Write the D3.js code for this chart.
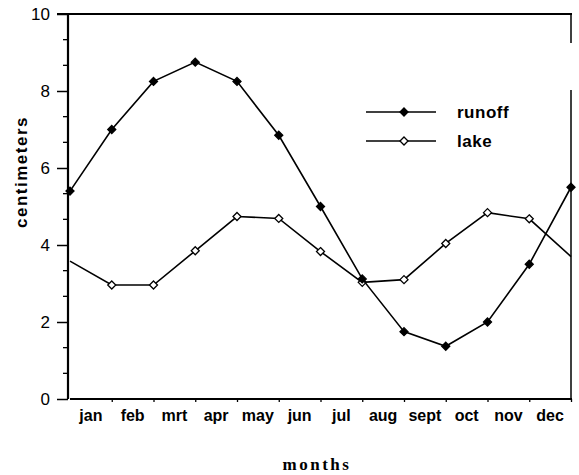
<!DOCTYPE html>
<html>
<head>
<meta charset="utf-8">
<title>runoff and lake</title>
<script src="https://d3js.org/d3.v7.min.js"></script>
<style>
  body { margin: 0; background: #fff; }
  svg { display: block; }
  .tick-y { font-family: "Liberation Sans", Arial, sans-serif; font-size: 17px; }
  .tick-x { font-family: "Liberation Sans", Arial, sans-serif; font-size: 16px; font-weight: bold; }
  .legend { font-family: "Liberation Sans", Arial, sans-serif; font-size: 17px; font-weight: bold; letter-spacing: 0.5px; }
</style>
</head>
<body>
<svg id="chart" width="579" height="475"></svg>
<script>
// data (13 points: jan .. dec and back to jan)
var months = ["jan", "feb", "mrt", "apr", "may", "jun", "jul", "aug", "sept", "oct", "nov", "dec"];
var runoff = [5.4, 7.0, 8.25, 8.75, 8.25, 6.85, 5.0, 3.12, 1.75, 1.37, 2.0, 3.5, 5.5];
var lake   = [3.58, 2.96, 2.96, 3.85, 4.74, 4.69, 3.83, 3.03, 3.1, 4.04, 4.84, 4.68, 3.7];
var yMajor = [0, 2, 4, 6, 8, 10];

var svg = d3.select("#chart");

var x = d3.scaleLinear().domain([0, 12]).range([70, 571]);
var y = d3.scaleLinear().domain([0, 10]).range([399, 14]);

// frame (top, bottom, right side with the gap like in the scan)
svg.append("line").attr("x1", 57).attr("x2", x(12) + 1).attr("y1", y(10)).attr("y2", y(10))
   .attr("stroke", "#000").attr("stroke-width", 2);
svg.append("line").attr("x1", x(0)).attr("x2", x(12) + 1).attr("y1", y(0)).attr("y2", y(0))
   .attr("stroke", "#000").attr("stroke-width", 2);
svg.append("line").attr("x1", x(12)).attr("x2", x(12)).attr("y1", y(10)).attr("y2", 43)
   .attr("stroke", "#000").attr("stroke-width", 1.5);
svg.append("line").attr("x1", x(12)).attr("x2", x(12)).attr("y1", 90).attr("y2", y(0))
   .attr("stroke", "#000").attr("stroke-width", 1.5);

// y axis
var yAxis = d3.axisLeft(y).tickValues(yMajor).tickSize(11).tickPadding(7).tickFormat(d3.format("d"));
var gy = svg.append("g").attr("transform", "translate(" + (x(0) - 2) + ",0)").call(yAxis);
gy.select(".domain").attr("stroke-width", 2.2);
gy.selectAll(".tick line").attr("stroke-width", 1.5);
gy.selectAll(".tick text").attr("class", "tick-y").attr("fill", "#000");
gy.select(".domain").attr("d", "M0," + y(10) + "V" + y(0));

// minor y ticks every 2/3
var minor = d3.range(0, 31).map(function(i) { return i * 2 / 3; })
  .filter(function(v) { return v <= 10 && Math.abs(v - Math.round(v / 2) * 2) > 0.01; });
svg.append("g").selectAll("line").data(minor).enter().append("line")
   .attr("x1", x(0) - 7).attr("x2", x(0) - 2)
   .attr("y1", function(d) { return y(d); }).attr("y2", function(d) { return y(d); })
   .attr("stroke", "#000").attr("stroke-width", 1.3);

// x ticks at the points, month labels between them
var xAxis = d3.axisBottom(x).tickValues(d3.range(1, 13)).tickSize(3).tickFormat("");
var gx = svg.append("g").attr("transform", "translate(0," + y(0) + ")").call(xAxis);
gx.select(".domain").remove();
gx.selectAll(".tick line").attr("stroke-width", 1.3);

svg.append("g").selectAll("text").data(months).enter().append("text")
   .attr("class", "tick-x")
   .attr("x", function(d, i) { return x(i + 0.5); })
   .attr("y", 421)
   .attr("text-anchor", "middle")
   .text(function(d) { return d; });

// axis titles
svg.append("text")
   .attr("transform", "translate(27," + 172 + ") rotate(-90)")
   .attr("text-anchor", "middle")
   .style("font-family", "'Liberation Sans', Arial, sans-serif")
   .style("font-size", "17px").style("font-weight", "bold").style("letter-spacing", "1.5px")
   .text("centimeters");

svg.append("text")
   .attr("x", 317).attr("y", 470)
   .attr("text-anchor", "middle")
   .style("font-family", "'Liberation Serif', 'Times New Roman', serif")
   .style("font-size", "17px").style("font-weight", "bold").style("letter-spacing", "2.5px")
   .text("months");

// square diamond marker
var squareDiamond = {
  draw: function(ctx, size) {
    var r = Math.sqrt(size / 2);
    ctx.moveTo(0, -r); ctx.lineTo(r, 0); ctx.lineTo(0, r); ctx.lineTo(-r, 0); ctx.closePath();
  }
};
var diamond = d3.symbol().type(squareDiamond).size(32);

var line = d3.line().x(function(d, i) { return x(i); }).y(function(d) { return y(d); });

function drawSeries(values, fill, from, to) {
  svg.append("path").datum(values).attr("d", line)
     .attr("fill", "none").attr("stroke", "#000").attr("stroke-width", 1.6);
  svg.append("g").selectAll("path").data(values.slice(from, to)).enter().append("path")
     .attr("d", diamond)
     .attr("transform", function(d, i) { return "translate(" + x(i + from) + "," + y(d) + ")"; })
     .attr("fill", fill).attr("stroke", "#000").attr("stroke-width", 1.3);
}
drawSeries(lake, "#fff", 1, 12);
drawSeries(runoff, "#000", 0, 13);

// legend
var legend = [{ name: "runoff", fill: "#000", y: 112 }, { name: "lake", fill: "#fff", y: 141 }];
var lg = svg.append("g").selectAll("g").data(legend).enter().append("g");
lg.append("line").attr("x1", 366).attr("x2", 436)
  .attr("y1", function(d) { return d.y; }).attr("y2", function(d) { return d.y; })
  .attr("stroke", "#000").attr("stroke-width", 1.6);
lg.append("path").attr("d", diamond)
  .attr("transform", function(d) { return "translate(404," + d.y + ")"; })
  .attr("fill", function(d) { return d.fill; }).attr("stroke", "#000").attr("stroke-width", 1.3);
lg.append("text").attr("class", "legend")
  .attr("x", 457).attr("y", function(d) { return d.y + 6; })
  .text(function(d) { return d.name; });
</script>
</body>
</html>
